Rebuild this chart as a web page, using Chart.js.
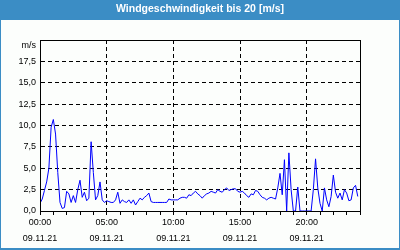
<!DOCTYPE html>
<html lang="de">
<head>
<meta charset="UTF-8">
<title>Windgeschwindigkeit</title>
<script src="https://cdn.jsdelivr.net/npm/chart.js"></script>
<style>
  html, body { margin: 0; padding: 0; background: #fff; }
</style>
</head>
<body>
<canvas id="chart" width="400" height="250"></canvas>

<script>
    // chart texts
    const chartTitle = 'Windgeschwindigkeit bis 20 [m/s]';
    const unitLabel = 'm/s';
    const dateLabel = '09.11.21';
    const hourLabels = ['00:00', '05:00', '10:00', '15:00', '20:00'];

    // wind speed in m/s, one value every 10 minutes starting 00:00
    const stepHours = 1 / 6;
    const windSpeed = [
        0.9, 1.4, 2.4, 3.4, 5.0, 9.8, 10.7, 9.0, 4.5, 1.0,
        0.3, 0.4, 2.3, 2.0, 1.0, 1.8, 1.0, 2.5, 3.6, 1.6,
        2.2, 1.2, 1.5, 8.1, 4.5, 1.3, 1.8, 3.4, 1.3, 1.0,
        1.2, 1.1, 1.0, 1.0, 1.3, 2.2, 0.9, 1.3, 1.1, 1.0,
        1.3, 0.9, 1.3, 0.7, 1.1, 1.5, 1.3, 1.6, 1.8, 2.1,
        1.1, 1.0, 1.0, 1.0, 1.0, 1.0, 1.0, 1.0, 1.4, 1.3,
        1.3, 1.3, 1.3, 1.5, 1.6, 1.6, 1.5, 1.9, 1.8, 2.1,
        2.3, 2.0, 1.8, 1.5, 1.8, 2.0, 2.1, 2.3, 2.2, 2.1,
        2.5, 2.3, 2.2, 2.5, 2.7, 2.4, 2.5, 2.6, 2.6, 2.3,
        2.2, 2.3, 2.1, 1.8, 1.6, 2.0, 1.9, 2.4, 2.3, 1.9,
        1.6, 1.5, 1.3, 1.5, 1.6, 1.5, 1.4, 2.7, 4.4, 1.9,
        6.0, 0.0, 6.8, 2.5, 0.0, 0.0, 2.8, 0.0, 0.0, 0.0,
        0.0, 0.0, 0.0, 2.5, 6.1, 2.7, 0.9, 0.0, 2.7, 1.3,
        0.5, 1.7, 4.2, 2.2, 1.5, 2.1, 1.3, 2.5, 2.1, 1.2,
        1.3, 2.7, 3.0, 1.7
    ];

    const fontFamily = '"Liberation Sans", Arial, sans-serif';

    // blue frame, title bar and black box round the plot
    const framePlugin = {
        id: 'frame',
        beforeDraw(chart) {
            const ctx = chart.ctx;
            ctx.save();
            ctx.fillStyle = '#fcfefc';
            ctx.fillRect(0, 0, chart.width, chart.height);
            ctx.fillStyle = '#3b8dc5';
            ctx.fillRect(0, 0, chart.width, 20);
            ctx.fillRect(0, 0, 1, chart.height);
            ctx.fillRect(chart.width - 1, 0, 1, chart.height);
            ctx.fillRect(0, chart.height - 2, chart.width, 2);
            ctx.restore();
        },
        afterDatasetsDraw(chart) {
            const a = chart.chartArea;
            const ctx = chart.ctx;
            ctx.save();
            ctx.strokeStyle = '#000';
            ctx.lineWidth = 1;
            ctx.strokeRect(Math.round(a.left) + 0.5, Math.round(a.top) + 0.5,
                Math.round(a.right - a.left), Math.round(a.bottom - a.top));
            ctx.restore();
        }
    };

    const ctx = document.getElementById('chart').getContext('2d');
    new Chart(ctx, {
        type: 'line',
        data: {
            datasets: [{
                data: windSpeed.map((v, i) => ({ x: i * stepHours, y: v })),
                borderColor: '#0000ff',
                borderWidth: 1,
                pointRadius: 0,
                tension: 0,
                fill: false
            }]
        },
        options: {
            responsive: false,
            animation: false,
            layout: { padding: 0 },
            plugins: {
                legend: { display: false },
                tooltip: { enabled: false },
                title: {
                    display: true,
                    text: chartTitle,
                    color: '#ffffff',
                    font: { family: fontFamily, size: 10.5, weight: 'bold' },
                    padding: { top: 2.5, bottom: 24.9 }
                }
            },
            scales: {
                x: {
                    type: 'linear',
                    min: 0,
                    max: 24,
                    border: { color: '#000', dash: [4, 3] },
                    grid: {
                        color: c => (c.tick && c.tick.value % 5 === 0) ? '#000' : 'rgba(0,0,0,0)',
                        tickColor: '#000',
                        tickLength: 4
                    },
                    ticks: {
                        stepSize: 1,
                        autoSkip: false,
                        maxRotation: 0,
                        padding: 0,
                        color: '#000',
                        font: { family: fontFamily, size: 9, lineHeight: '16px' },
                        callback: v => {
                            const k = hourLabels.findIndex((s, j) => j * 5 === v);
                            return k >= 0 ? [hourLabels[k], dateLabel] : '';
                        }
                    },
                    afterFit: s => { s.height = 39; }
                },
                y: {
                    min: 0,
                    max: 20,
                    border: { color: '#000', dash: [4, 3] },
                    grid: { color: '#000', drawTicks: false },
                    ticks: {
                        stepSize: 2.5,
                        autoSkip: false,
                        padding: 4,
                        color: '#000',
                        font: { family: fontFamily, size: 9 },
                        callback: v => v === 20 ? ['', unitLabel] : v.toFixed(1).replace('.', ',')
                    },
                    afterFit: s => { s.width = 40; }
                },
                // empty right-hand margin so the title stays centred on the page
                spare: {
                    type: 'linear',
                    position: 'right',
                    grid: { display: false, drawTicks: false },
                    border: { display: false },
                    ticks: { display: false },
                    afterFit: s => { s.width = 40; }
                }
            }
        },
        plugins: [framePlugin]
    });
</script>
</body>
</html>
